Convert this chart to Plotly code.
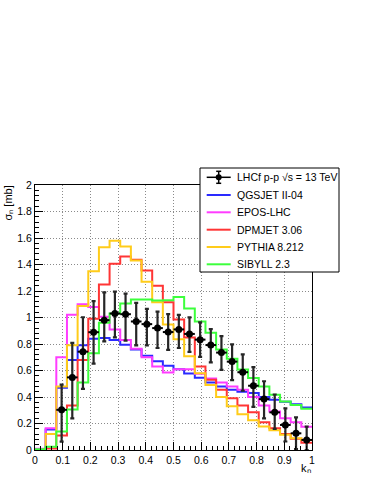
import numpy as np
import plotly.graph_objects as go

# binning in k_n (26 equal bins between 0 and 1)
n_bins = 26
edges = np.linspace(0.0, 1.0, n_bins + 1)
centers = 0.5 * (edges[:-1] + edges[1:])
half_width = 0.5 / n_bins

# model predictions, sigma_n [mb] per bin
qgsjet = [0.005, 0.155, 0.47, 0.68, 0.79, 0.84, 0.845, 0.83, 0.795, 0.758, 0.712, 0.669, 0.636,
          0.61, 0.578, 0.545, 0.51, 0.48, 0.455, 0.44, 0.43, 0.40, 0.38, 0.365, 0.345, 0.32]
epos = [0.01, 0.165, 0.70, 1.02, 1.10, 1.08, 1.005, 0.91, 0.83, 0.765, 0.70, 0.63, 0.585,
        0.61, 0.61, 0.575, 0.54, 0.51, 0.48, 0.455, 0.40, 0.335, 0.29, 0.24, 0.21, 0.175]
dpmjet = [0.0, 0.012, 0.11, 0.335, 0.68, 0.99, 1.25, 1.405, 1.46, 1.435, 1.355, 1.24, 1.115,
          0.985, 0.85, 0.63, 0.53, 0.455, 0.39, 0.335, 0.285, 0.21, 0.165, 0.12, 0.085, 0.055]
pythia = [0.0, 0.12, 0.48, 0.79, 1.086, 1.35, 1.53, 1.58, 1.535, 1.43, 1.27, 1.115, 0.947,
          0.835, 0.707, 0.58, 0.49, 0.40, 0.33, 0.27, 0.225, 0.177, 0.15, 0.115, 0.088, 0.076]
sibyll = [0.005, 0.025, 0.14, 0.305, 0.51, 0.73, 0.96, 1.03, 1.105, 1.135, 1.135, 1.128, 1.13,
          1.155, 1.068, 0.97, 0.884, 0.758, 0.689, 0.608, 0.543, 0.48, 0.417, 0.366, 0.34, 0.312]

# LHCf data, bins 2..25
first_data_bin = 2
lhcf = [0.303, 0.548, 0.742, 0.889, 0.98, 1.03, 1.025, 0.97, 0.95, 0.92, 0.89, 0.91,
        0.876, 0.833, 0.792, 0.735, 0.667, 0.587, 0.485, 0.384, 0.284, 0.189, 0.126, 0.076]
lhcf_err_up = [0.19, 0.26, 0.26, 0.235, 0.21, 0.165, 0.155, 0.14, 0.115, 0.125, 0.135, 0.11,
               0.125, 0.13, 0.12, 0.125, 0.13, 0.135, 0.14, 0.135, 0.135, 0.125, 0.12, 0.10]
lhcf_err_down = [0.24, 0.31, 0.28, 0.237, 0.16, 0.18, 0.2, 0.18, 0.16, 0.15, 0.135, 0.14,
                 0.135, 0.13, 0.13, 0.13, 0.14, 0.14, 0.16, 0.145, 0.125, 0.125, 0.12, 0.076]

data_label = "LHCf p-p √s = 13 TeV"
models = [
    ("QGSJET II-04", qgsjet, "#2a2aff"),
    ("EPOS-LHC", epos, "#ff3cff"),
    ("DPMJET 3.06", dpmjet, "#ff3535"),
    ("PYTHIA 8.212", pythia, "#ffcc1a"),
    ("SIBYLL 2.3", sibyll, "#3cff3c"),
]

W, H = 374, 484
L, R, T, B = 35, 62, 185, 34
FONT = "Liberation Sans, Arial, sans-serif"


def px(x):
    # window pixel -> paper coordinate
    return (x - L) / (W - L - R)


def py(y):
    return (H - B - y) / (H - T - B)


fig = go.Figure()

for name, vals, color in models:
    fig.add_trace(go.Scatter(
        x=edges, y=list(vals) + [vals[-1]],
        mode="lines", line=dict(color=color, width=2, shape="hv"),
        name=name, hoverinfo="skip",
    ))

fig.add_trace(go.Scatter(
    x=centers[first_data_bin:], y=lhcf, mode="markers", name=data_label,
    marker=dict(color="black", size=7),
    error_y=dict(type="data", symmetric=False, array=lhcf_err_up, arrayminus=lhcf_err_down,
                 color="#262626", thickness=2.2, width=2),
    error_x=dict(type="constant", value=half_width, color="black", thickness=2, width=0),
))

# hand-drawn ROOT-like legend
box = dict(x0=px(200), x1=px(339), y0=py(272), y1=py(168))
shapes = [dict(type="rect", xref="paper", yref="paper", line=dict(color="black", width=1),
               fillcolor="white", layer="above", **box)]
annotations = []
row_y = [177.3, 195.0, 212.3, 229.7, 247.0, 264.3]
x_l, x_r, x_txt = 206.7, 230.7, 235.3
x_c = 0.5 * (x_l + x_r)

# data entry
y0 = row_y[0]
shapes.append(dict(type="line", xref="paper", yref="paper", x0=px(x_l), x1=px(x_r),
                   y0=py(y0), y1=py(y0), line=dict(color="black", width=1.5), layer="above"))
shapes.append(dict(type="line", xref="paper", yref="paper", x0=px(x_c), x1=px(x_c),
                   y0=py(y0 - 6), y1=py(y0 + 6), line=dict(color="black", width=1.5), layer="above"))
for yy in (y0 - 6, y0 + 6):
    shapes.append(dict(type="line", xref="paper", yref="paper", x0=px(x_c - 2.5), x1=px(x_c + 2.5),
                       y0=py(yy), y1=py(yy), line=dict(color="black", width=1.5), layer="above"))
shapes.append(dict(type="circle", xref="paper", yref="paper", x0=px(x_c - 3), x1=px(x_c + 3),
                   y0=py(y0 + 3), y1=py(y0 - 3), fillcolor="black", line=dict(color="black", width=0),
                   layer="above"))
annotations.append(dict(x=px(x_txt), y=py(y0), xref="paper", yref="paper", text=data_label,
                        showarrow=False, xanchor="left", yanchor="middle",
                        font=dict(family=FONT, size=10.5, color="black")))

for (name, vals, color), yy in zip(models, row_y[1:]):
    shapes.append(dict(type="line", xref="paper", yref="paper", x0=px(x_l), x1=px(x_r),
                       y0=py(yy), y1=py(yy), line=dict(color=color, width=2), layer="above"))
    annotations.append(dict(x=px(x_txt), y=py(yy), xref="paper", yref="paper", text=name,
                            showarrow=False, xanchor="left", yanchor="middle",
                            font=dict(family=FONT, size=10.5, color="black")))

# axis titles, ROOT style
annotations.append(dict(x=px(7), y=py(184), xref="paper", yref="paper",
                        text="σₙ [mb]", textangle=-90, showarrow=False,
                        xanchor="center", yanchor="top", font=dict(family=FONT, size=11, color="black")))
annotations.append(dict(x=px(313), y=py(468), xref="paper", yref="paper",
                        text="kₙ", showarrow=False,
                        xanchor="right", yanchor="middle", font=dict(family=FONT, size=11, color="black")))

axis_common = dict(
    showline=True, linecolor="black", linewidth=1, mirror=True,
    ticks="inside", ticklen=8, tickcolor="black", tickwidth=1,
    showgrid=True, gridcolor="#8a8a8a", griddash="1px,2px", gridwidth=1,
    zeroline=False, tickfont=dict(family=FONT, size=10.5, color="black"),
)

fig.update_layout(
    width=W, height=H,
    margin=dict(l=L, r=R, t=T, b=B),
    paper_bgcolor="white", plot_bgcolor="white",
    showlegend=False,
    shapes=shapes, annotations=annotations,
    xaxis=dict(range=[0, 1], dtick=0.1, tick0=0,
               minor=dict(ticks="inside", ticklen=4, dtick=0.02, tickcolor="black", showgrid=False),
               **axis_common),
    yaxis=dict(range=[0, 2], dtick=0.2, tick0=0,
               minor=dict(ticks="inside", ticklen=4, dtick=0.04, tickcolor="black", showgrid=False),
               **axis_common),
)

# drop the default 8px page margin so the figure fills the window exactly
fig.write_html("out.html", config={"displayModeBar": False},
               post_script="document.body.style.margin='0';")
